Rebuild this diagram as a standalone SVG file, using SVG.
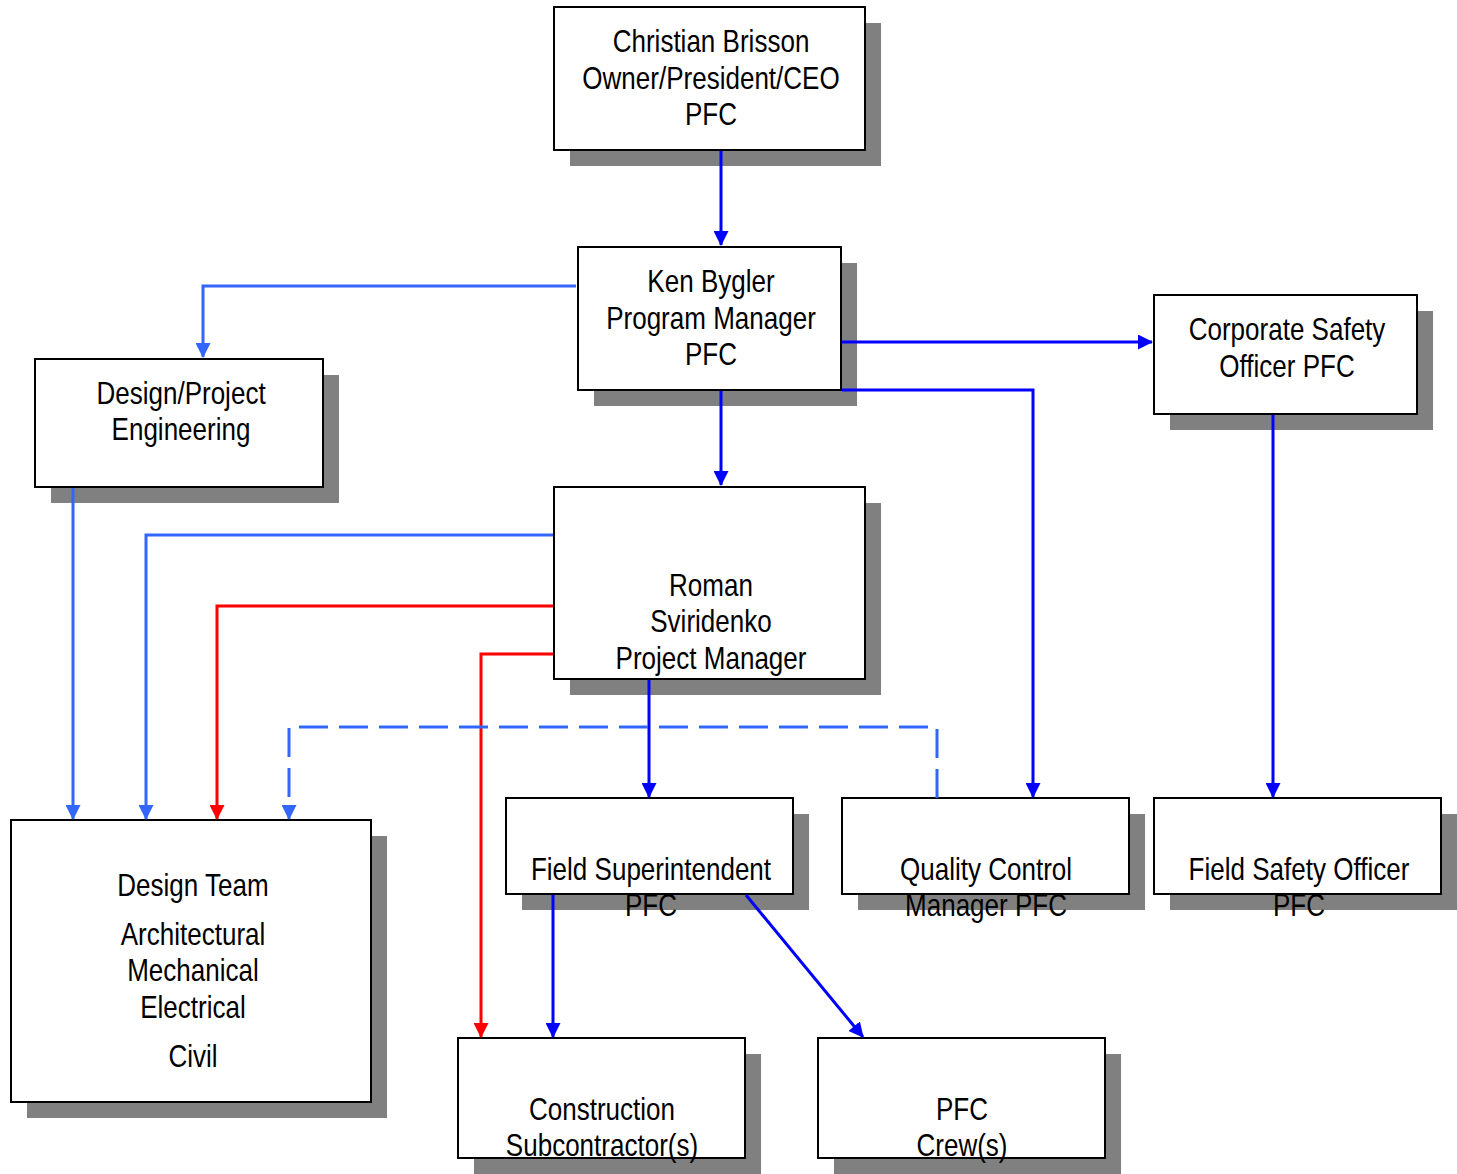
<svg xmlns="http://www.w3.org/2000/svg" width="1457" height="1174" viewBox="0 0 1457 1174">
<style>
.sh{fill:#808080}
.bx{fill:#fff;stroke:#000;stroke-width:2}
.t{font-family:'Liberation Sans',Arial,sans-serif;font-size:31px;fill:#000;text-anchor:middle}
.c{fill:none;stroke-width:3}
.b{stroke:#0000FF}
.lb{stroke:#3366FF}
.r{stroke:#FF0000}
.d{stroke-dasharray:29 11}
</style>
<defs>
<marker id="ab" markerUnits="userSpaceOnUse" markerWidth="15" markerHeight="15" refX="14" refY="7.5" orient="auto"><path d="M0,0 L15,7.5 L0,15 z" fill="#0000FF"/></marker>
<marker id="alb" markerUnits="userSpaceOnUse" markerWidth="15" markerHeight="15" refX="14" refY="7.5" orient="auto"><path d="M0,0 L15,7.5 L0,15 z" fill="#3366FF"/></marker>
<marker id="ar" markerUnits="userSpaceOnUse" markerWidth="15" markerHeight="15" refX="14" refY="7.5" orient="auto"><path d="M0,0 L15,7.5 L0,15 z" fill="#FF0000"/></marker>
</defs>
<rect width="1457" height="1174" fill="#fff"/>

<g id="n-ceo">
<rect class="sh" x="570" y="23" width="311" height="143"/>
<rect class="bx" x="554" y="7" width="311" height="143"/>
<text class="t" transform="translate(711 0) scale(0.84 1)"><tspan x="0" y="52">Christian Brisson</tspan><tspan x="0" y="89">Owner/President/CEO</tspan><tspan x="0" y="125">PFC</tspan></text>
</g>

<g id="n-ken">
<rect class="sh" x="594" y="263" width="263" height="143"/>
<rect class="bx" x="578" y="247" width="263" height="143"/>
<text class="t" transform="translate(711 0) scale(0.84 1)"><tspan x="0" y="292">Ken Bygler</tspan><tspan x="0" y="329">Program Manager</tspan><tspan x="0" y="365">PFC</tspan></text>
</g>

<g id="n-corpsafety">
<rect class="sh" x="1170" y="311" width="263" height="119"/>
<rect class="bx" x="1154" y="295" width="263" height="119"/>
<text class="t" transform="translate(1287 0) scale(0.84 1)"><tspan x="0" y="340">Corporate Safety</tspan><tspan x="0" y="377">Officer PFC</tspan></text>
</g>

<g id="n-design-eng">
<rect class="sh" x="51" y="375" width="288" height="128"/>
<rect class="bx" x="35" y="359" width="288" height="128"/>
<text class="t" transform="translate(181 0) scale(0.84 1)"><tspan x="0" y="404">Design/Project</tspan><tspan x="0" y="440">Engineering</tspan></text>
</g>

<g id="n-roman">
<rect class="sh" x="570" y="503" width="311" height="192"/>
<rect class="bx" x="554" y="487" width="311" height="192"/>
<text class="t" transform="translate(711 0) scale(0.84 1)"><tspan x="0" y="596">Roman</tspan><tspan x="0" y="632">Sviridenko</tspan><tspan x="0" y="669">Project Manager</tspan></text>
</g>

<g id="n-design-team">
<rect class="sh" x="27" y="836" width="360" height="282"/>
<rect class="bx" x="11" y="820" width="360" height="282"/>
<text class="t" transform="translate(193 0) scale(0.84 1)"><tspan x="0" y="896">Design Team</tspan><tspan x="0" y="945">Architectural</tspan><tspan x="0" y="981">Mechanical</tspan><tspan x="0" y="1018">Electrical</tspan><tspan x="0" y="1067">Civil</tspan></text>
</g>

<g id="n-field-super">
<rect class="sh" x="522" y="814" width="287" height="96"/>
<rect class="bx" x="506" y="798" width="287" height="96"/>
<text class="t" transform="translate(651 0) scale(0.84 1)"><tspan x="0" y="880">Field Superintendent</tspan><tspan x="0" y="916">PFC</tspan></text>
</g>

<g id="n-qc">
<rect class="sh" x="858" y="814" width="287" height="96"/>
<rect class="bx" x="842" y="798" width="287" height="96"/>
<text class="t" transform="translate(986 0) scale(0.84 1)"><tspan x="0" y="880">Quality Control</tspan><tspan x="0" y="916">Manager PFC</tspan></text>
</g>

<g id="n-field-safety">
<rect class="sh" x="1170" y="814" width="287" height="96"/>
<rect class="bx" x="1154" y="798" width="287" height="96"/>
<text class="t" transform="translate(1299 0) scale(0.84 1)"><tspan x="0" y="880">Field Safety Officer</tspan><tspan x="0" y="916">PFC</tspan></text>
</g>

<g id="n-subcontractor">
<rect class="sh" x="474" y="1054" width="287" height="120"/>
<rect class="bx" x="458" y="1038" width="287" height="120"/>
<text class="t" transform="translate(602 0) scale(0.84 1)"><tspan x="0" y="1120">Construction</tspan><tspan x="0" y="1156">Subcontractor(s)</tspan></text>
</g>

<g id="n-crew">
<rect class="sh" x="834" y="1054" width="287" height="120"/>
<rect class="bx" x="818" y="1038" width="287" height="120"/>
<text class="t" transform="translate(962 0) scale(0.84 1)"><tspan x="0" y="1120">PFC</tspan><tspan x="0" y="1156">Crew(s)</tspan></text>
</g>

<g id="connectors">
<path class="c b" d="M721,151 V245" marker-end="url(#ab)"/>
<path class="c lb" d="M576,286 H203 V357" marker-end="url(#alb)"/>
<path class="c b" d="M842,342 H1152" marker-end="url(#ab)"/>
<path class="c b" d="M842,390 H1033 V797" marker-end="url(#ab)"/>
<path class="c b" d="M721,391 V485" marker-end="url(#ab)"/>
<path class="c b" d="M1273,415 V797" marker-end="url(#ab)"/>
<path class="c lb" d="M73,488 V819" marker-end="url(#alb)"/>
<path class="c lb" d="M553,535 H146 V819" marker-end="url(#alb)"/>
<path class="c r" d="M553,606 H217 V819" marker-end="url(#ar)"/>
<path class="c r" d="M553,654 H481 V1037" marker-end="url(#ar)"/>
<path class="c b" d="M649,680 V797" marker-end="url(#ab)"/>
<path class="c lb d" d="M937,798 V727 H289 V819" marker-end="url(#alb)"/>
<path class="c b" d="M553,895 V1037" marker-end="url(#ab)"/>
<path class="c b" d="M746,895 L863,1037" marker-end="url(#ab)"/>
</g>
</svg>
